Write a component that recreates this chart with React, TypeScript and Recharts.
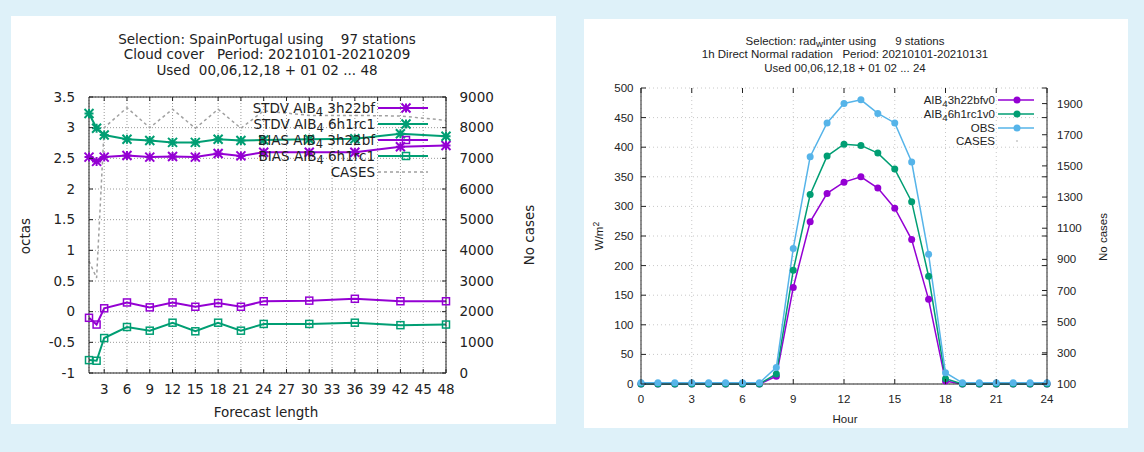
import { LineChart, Line, XAxis, YAxis, CartesianGrid, ReferenceLine } from "recharts";

// ---- left panel: cloud cover verification ----
const forecastLength = [1, 2, 3, 6, 9, 12, 15, 18, 21, 24, 30, 36, 42, 48];
const stdv3h22bf = [2.52, 2.45, 2.52, 2.545, 2.52, 2.53, 2.52, 2.58, 2.54, 2.6, 2.6, 2.6, 2.69, 2.71];
const stdv6h1rc1 = [3.23, 2.99, 2.88, 2.81, 2.79, 2.76, 2.76, 2.81, 2.79, 2.8, 2.81, 2.82, 2.9, 2.86];
const bias3h22bf = [-0.1, -0.21, 0.055, 0.15, 0.07, 0.15, 0.08, 0.14, 0.08, 0.17, 0.18, 0.21, 0.17, 0.17];
const bias6h1rc1 = [-0.79, -0.8, -0.43, -0.25, -0.31, -0.18, -0.32, -0.18, -0.31, -0.2, -0.2, -0.18, -0.22, -0.21];
const cloudCases = [3650, 3100, 8000, 8650, 8000, 8600, 7980, 8600, 7980, 8550, 8400, 8400, 8380, 8240];
const cloudXTicks = [3, 6, 9, 12, 15, 18, 21, 24, 27, 30, 33, 36, 39, 42, 45, 48];
const octaTicks = [-1, -0.5, 0, 0.5, 1, 1.5, 2, 2.5, 3, 3.5];
const cloudCaseTicks = [0, 1000, 2000, 3000, 4000, 5000, 6000, 7000, 8000, 9000];

// ---- right panel: direct normal radiation ----
const hours = [0, 1, 2, 3, 4, 5, 6, 7, 8, 9, 10, 11, 12, 13, 14, 15, 16, 17, 18, 19, 20, 21, 22, 23, 24];
const aib3h22bfv0 = [0, 0, 0, 0, 0, 0, 0, 0, 13, 163, 274, 322, 341, 350, 331, 297, 244, 143, 5, 0, 0, 0, 0, 0, 0];
const aib6h1rc1v0 = [0, 0, 0, 0, 0, 0, 0, 0, 17, 192, 320, 385, 405, 403, 390, 363, 308, 182, 9, 0, 0, 0, 0, 0, 0];
const obsRad = [2, 2, 2, 2, 2, 2, 2, 2, 28, 229, 384, 441, 474, 480, 457, 441, 375, 219, 19, 2, 2, 2, 2, 2, 2];
const hourTicks = [0, 3, 6, 9, 12, 15, 18, 21, 24];
const radTicks = [0, 50, 100, 150, 200, 250, 300, 350, 400, 450, 500];
const radCaseTicks = [100, 300, 500, 700, 900, 1100, 1300, 1500, 1700, 1900];

const PURPLE = "#9400d3";
const GREEN = "#009e73";
const SKY = "#56b4e9";
const GREY = "#a0a0a0";
const INK = "#222";
const TICK = 6; // recharts default tickSize, used to get back to the axis line

const cloudRows = forecastLength.map((fl, i) => ({
  fl,
  stdv3h: stdv3h22bf[i],
  stdv6h: stdv6h1rc1[i],
  bias3h: bias3h22bf[i],
  bias6h: bias6h1rc1[i],
  cases: cloudCases[i],
}));

const radRows = hours.map((h, i) => ({
  h,
  aib3h: aib3h22bfv0[i],
  aib6h: aib6h1rc1v0[i],
  obs: obsRad[i],
}));

type TickCfg = { gap: number; len: number; span: number; mirror: boolean; font: number; family: string };

// gnuplot style: ticks point into the plot, mirrored on the opposite border
const xTick = (c: TickCfg) => (p: any) => {
  const axisY = p.y - TICK - c.gap;
  return (
    <g key={p.index}>
      <line x1={p.x} x2={p.x} y1={axisY} y2={axisY - c.len} stroke={INK} />
      {c.mirror && <line x1={p.x} x2={p.x} y1={axisY - c.span} y2={axisY - c.span + c.len} stroke={INK} />}
      <text x={p.x} y={p.y} dy="0.71em" textAnchor="middle" fontSize={c.font} fontFamily={c.family} fill={INK}>
        {p.payload.value}
      </text>
    </g>
  );
};

const yTick = (c: TickCfg, side: "left" | "right") => (p: any) => {
  const dir = side === "left" ? 1 : -1;
  const axisX = p.x + dir * (TICK + c.gap);
  return (
    <g key={p.index}>
      <line x1={axisX} x2={axisX + dir * c.len} y1={p.y} y2={p.y} stroke={INK} />
      {c.mirror && <line x1={axisX + dir * c.span} x2={axisX + dir * (c.span - c.len)} y1={p.y} y2={p.y} stroke={INK} />}
      <text x={p.x} y={p.y} dy="0.355em" textAnchor={side === "left" ? "end" : "start"} fontSize={c.font} fontFamily={c.family} fill={INK}>
        {p.payload.value}
      </text>
    </g>
  );
};

function Star({ cx, cy, color }: { cx: number; cy: number; color: string }) {
  const r = 4.5;
  return (
    <path
      d={`M${cx - r},${cy}H${cx + r}M${cx},${cy - r}V${cy + r}M${cx - r},${cy - r}L${cx + r},${cy + r}M${cx - r},${cy + r}L${cx + r},${cy - r}`}
      stroke={color}
      strokeWidth={2}
    />
  );
}

function Square({ cx, cy, color }: { cx: number; cy: number; color: string }) {
  const r = 3.5;
  return <rect x={cx - r} y={cy - r} width={2 * r} height={2 * r} fill="none" stroke={color} strokeWidth={1.5} />;
}

const starDot = (color: string) => (p: any) => <Star key={p.index} cx={p.cx} cy={p.cy} color={color} />;
const squareDot = (color: string) => (p: any) => <Square key={p.index} cx={p.cx} cy={p.cy} color={color} />;

const Sub = ({ children }: { children: string }) => (
  <span style={{ fontSize: "0.85em", position: "relative", top: "0.3em" }}>{children}</span>
);

const LEFT_FONT = "'DejaVu Sans', sans-serif";
const RIGHT_FONT = "'Liberation Sans', Arial, sans-serif";

function CloudPanel() {
  const W = 545;
  const H = 408;
  const plot = { left: 78, right: 435, top: 81, bottom: 357 };
  const fs = 13.5;
  const xCfg = { gap: 5, len: 4, span: plot.bottom - plot.top, mirror: true, font: fs, family: LEFT_FONT };
  const yLCfg = { gap: 8, len: 4, span: plot.right - plot.left, mirror: false, font: fs, family: LEFT_FONT };
  const yRCfg = { gap: 7.5, len: 4, span: plot.right - plot.left, mirror: false, font: fs, family: LEFT_FONT };

  const legend = [
    { label: "STDV", run: "3h22bf", color: PURPLE, mark: "star" },
    { label: "STDV", run: "6h1rc1", color: GREEN, mark: "star" },
    { label: "BIAS", run: "3h22bf", color: PURPLE, mark: "square" },
    { label: "BIAS", run: "6h1rc1", color: GREEN, mark: "square" },
  ];
  const rowY = [92, 108, 124, 140, 156];
  const textRight = 364;

  return (
    <div style={{ position: "absolute", left: 11, top: 16, width: W, height: H, background: "#fff", fontFamily: LEFT_FONT, color: INK }}>
      <div style={{ position: "absolute", left: 0, top: 15.5, width: 2 * 256, textAlign: "center", fontSize: fs, lineHeight: "15.7px", whiteSpace: "pre" }}>
        <div>Selection: SpainPortugal using    97 stations</div>
        <div>Cloud cover   Period: 20210101-20210209</div>
        <div>Used  00,06,12,18 + 01 02 ... 48</div>
      </div>
      <LineChart width={W} height={H} data={cloudRows} margin={{ top: plot.top, right: 50, bottom: 21, left: 28 }}>
        <CartesianGrid yAxisId="left" stroke="#9a9a9a" strokeDasharray="1 2" />
        <XAxis
          dataKey="fl"
          type="number"
          domain={[1, 48]}
          ticks={cloudXTicks}
          interval={0}
          height={30}
          stroke={INK}
          tickLine={false}
          tickMargin={xCfg.gap}
          tick={xTick(xCfg)}
        />
        <YAxis
          yAxisId="left"
          type="number"
          domain={[-1, 3.5]}
          ticks={octaTicks}
          interval={0}
          width={50}
          stroke={INK}
          tickLine={false}
          tickMargin={yLCfg.gap}
          tick={yTick(yLCfg, "left")}
        />
        <YAxis
          yAxisId="right"
          orientation="right"
          type="number"
          domain={[0, 9000]}
          ticks={cloudCaseTicks}
          interval={0}
          width={60}
          stroke={INK}
          tickLine={false}
          tickMargin={yRCfg.gap}
          tick={yTick(yRCfg, "right")}
        />
        <ReferenceLine yAxisId="left" y={3.5} stroke={INK} />
        <Line yAxisId="right" dataKey="cases" stroke={GREY} strokeWidth={1.5} strokeDasharray="3 3" dot={false} isAnimationActive={false} />
        <Line yAxisId="left" dataKey="stdv3h" stroke={PURPLE} strokeWidth={2} dot={starDot(PURPLE)} isAnimationActive={false} />
        <Line yAxisId="left" dataKey="stdv6h" stroke={GREEN} strokeWidth={2} dot={starDot(GREEN)} isAnimationActive={false} />
        <Line yAxisId="left" dataKey="bias3h" stroke={PURPLE} strokeWidth={2} dot={squareDot(PURPLE)} isAnimationActive={false} />
        <Line yAxisId="left" dataKey="bias6h" stroke={GREEN} strokeWidth={2} dot={squareDot(GREEN)} isAnimationActive={false} />
      </LineChart>

      {legend.map((l, i) => (
        <div key={i}>
          <div style={{ position: "absolute", right: W - textRight, top: rowY[i] - 9, fontSize: fs, lineHeight: "18px", whiteSpace: "pre" }}>
            {l.label} AIB<Sub>4</Sub> {l.run}
          </div>
          <svg style={{ position: "absolute", left: 366, top: rowY[i] - 6 }} width={52} height={12}>
            <line x1={1} x2={51} y1={6} y2={6} stroke={l.color} strokeWidth={2} />
            {l.mark === "star" ? <Star cx={29} cy={6} color={l.color} /> : <Square cx={29} cy={6} color={l.color} />}
          </svg>
        </div>
      ))}
      <div style={{ position: "absolute", right: W - textRight, top: rowY[4] - 9, fontSize: fs, lineHeight: "18px" }}>CASES</div>
      <svg style={{ position: "absolute", left: 366, top: rowY[4] - 6 }} width={52} height={12}>
        <line x1={1} x2={51} y1={6} y2={6} stroke={GREY} strokeWidth={1.5} strokeDasharray="3 3" />
      </svg>

      <div style={{ position: "absolute", left: 0, width: 2 * 255, top: 387, textAlign: "center", fontSize: fs, lineHeight: "18px" }}>
        Forecast length
      </div>
      <div style={{ position: "absolute", left: 13.5, top: 219.5, fontSize: fs, transform: "translate(-50%,-50%) rotate(-90deg)", whiteSpace: "nowrap" }}>
        octas
      </div>
      <div style={{ position: "absolute", left: 518, top: 219, fontSize: fs, transform: "translate(-50%,-50%) rotate(-90deg)", whiteSpace: "nowrap" }}>
        No cases
      </div>
    </div>
  );
}

function RadPanel() {
  const W = 544;
  const H = 409;
  const plot = { left: 57, right: 463, top: 69, bottom: 365 };
  const fs = 11.5;
  const xCfg = { gap: 5, len: 5, span: plot.bottom - plot.top, mirror: true, font: fs, family: RIGHT_FONT };
  const yLCfg = { gap: 1.5, len: 5, span: plot.right - plot.left, mirror: true, font: fs, family: RIGHT_FONT };
  const yRCfg = { gap: 4, len: 5, span: plot.right - plot.left, mirror: false, font: fs, family: RIGHT_FONT };

  const legend = [
    { label: "3h22bfv0", color: PURPLE },
    { label: "6h1rc1v0", color: GREEN },
  ];
  const rowY = [81, 95, 108.5, 121.5];
  const textRight = 411;

  return (
    <div style={{ position: "absolute", left: 584, top: 19, width: W, height: H, background: "#fff", fontFamily: RIGHT_FONT, color: INK }}>
      <div style={{ position: "absolute", left: 0, top: 15.5, width: 2 * 261, textAlign: "center", fontSize: fs, lineHeight: "13.9px", whiteSpace: "pre" }}>
        <div>
          Selection: rad<Sub>w</Sub>inter using      9 stations
        </div>
        <div>1h Direct Normal radation   Period: 20210101-20210131</div>
        <div>Used 00,06,12,18 + 01 02 ... 24</div>
      </div>
      <LineChart width={W} height={H} data={radRows} margin={{ top: plot.top, right: 31, bottom: 14, left: 17 }}>
        <CartesianGrid yAxisId="left" stroke="#c8c8c8" strokeDasharray="1 3" />
        <XAxis
          dataKey="h"
          type="number"
          domain={[0, 24]}
          ticks={hourTicks}
          interval={0}
          height={30}
          stroke={INK}
          tickLine={false}
          tickMargin={xCfg.gap}
          tick={xTick(xCfg)}
        />
        <YAxis
          yAxisId="left"
          type="number"
          domain={[0, 500]}
          ticks={radTicks}
          interval={0}
          width={40}
          stroke={INK}
          tickLine={false}
          tickMargin={yLCfg.gap}
          tick={yTick(yLCfg, "left")}
        />
        <YAxis
          yAxisId="right"
          orientation="right"
          type="number"
          domain={[100, 2000]}
          allowDataOverflow
          ticks={radCaseTicks}
          interval={0}
          width={50}
          stroke={INK}
          tickLine={false}
          tickMargin={yRCfg.gap}
          tick={yTick(yRCfg, "right")}
        />
        {/* the case-count axis only carries a scale here; nothing is drawn against it */}
        <Line yAxisId="right" dataKey="obs" hide legendType="none" isAnimationActive={false} />
        <Line yAxisId="left" dataKey="aib3h" stroke={PURPLE} strokeWidth={1.5} dot={{ r: 3.5, fill: PURPLE, stroke: PURPLE, strokeWidth: 0 }} isAnimationActive={false} />
        <Line yAxisId="left" dataKey="aib6h" stroke={GREEN} strokeWidth={1.5} dot={{ r: 3.5, fill: GREEN, stroke: GREEN, strokeWidth: 0 }} isAnimationActive={false} />
        <Line yAxisId="left" dataKey="obs" stroke={SKY} strokeWidth={1.5} dot={{ r: 3.5, fill: SKY, stroke: SKY, strokeWidth: 0 }} isAnimationActive={false} />
      </LineChart>

      {legend.map((l, i) => (
        <div key={i}>
          <div style={{ position: "absolute", right: W - textRight, top: rowY[i] - 8, fontSize: fs, lineHeight: "16px", whiteSpace: "pre" }}>
            AIB<Sub>4</Sub>
            {l.label}
          </div>
          <svg style={{ position: "absolute", left: 413, top: rowY[i] - 5 }} width={38} height={10}>
            <line x1={1} x2={37} y1={5} y2={5} stroke={l.color} strokeWidth={1.5} />
            <circle cx={20} cy={5} r={3.5} fill={l.color} />
          </svg>
        </div>
      ))}
      <div style={{ position: "absolute", right: W - textRight, top: rowY[2] - 8, fontSize: fs, lineHeight: "16px" }}>OBS</div>
      <svg style={{ position: "absolute", left: 413, top: rowY[2] - 5 }} width={38} height={10}>
        <line x1={1} x2={37} y1={5} y2={5} stroke={SKY} strokeWidth={1.5} />
        <circle cx={20} cy={5} r={3.5} fill={SKY} />
      </svg>
      <div style={{ position: "absolute", right: W - textRight, top: rowY[3] - 8, fontSize: fs, lineHeight: "16px" }}>CASES</div>
      <svg style={{ position: "absolute", left: 413, top: rowY[3] - 5 }} width={38} height={10}>
        <circle cx={20} cy={5} r={0.8} fill={GREY} />
      </svg>

      <div style={{ position: "absolute", left: 0, width: 2 * 261, top: 392, textAlign: "center", fontSize: fs, lineHeight: "16px" }}>Hour</div>
      <div style={{ position: "absolute", left: 13.6, top: 217, fontSize: fs, transform: "translate(-50%,-50%) rotate(-90deg)", whiteSpace: "nowrap" }}>
        W/m<sup style={{ fontSize: "0.75em" }}>2</sup>
      </div>
      <div style={{ position: "absolute", left: 518.6, top: 217.7, fontSize: fs, transform: "translate(-50%,-50%) rotate(-90deg)", whiteSpace: "nowrap" }}>
        No cases
      </div>
    </div>
  );
}

export default function App() {
  return (
    <div style={{ position: "absolute", left: 0, top: 0, width: 1144, height: 452, background: "#def1f9", overflow: "hidden" }}>
      <CloudPanel />
      <RadPanel />
    </div>
  );
}
